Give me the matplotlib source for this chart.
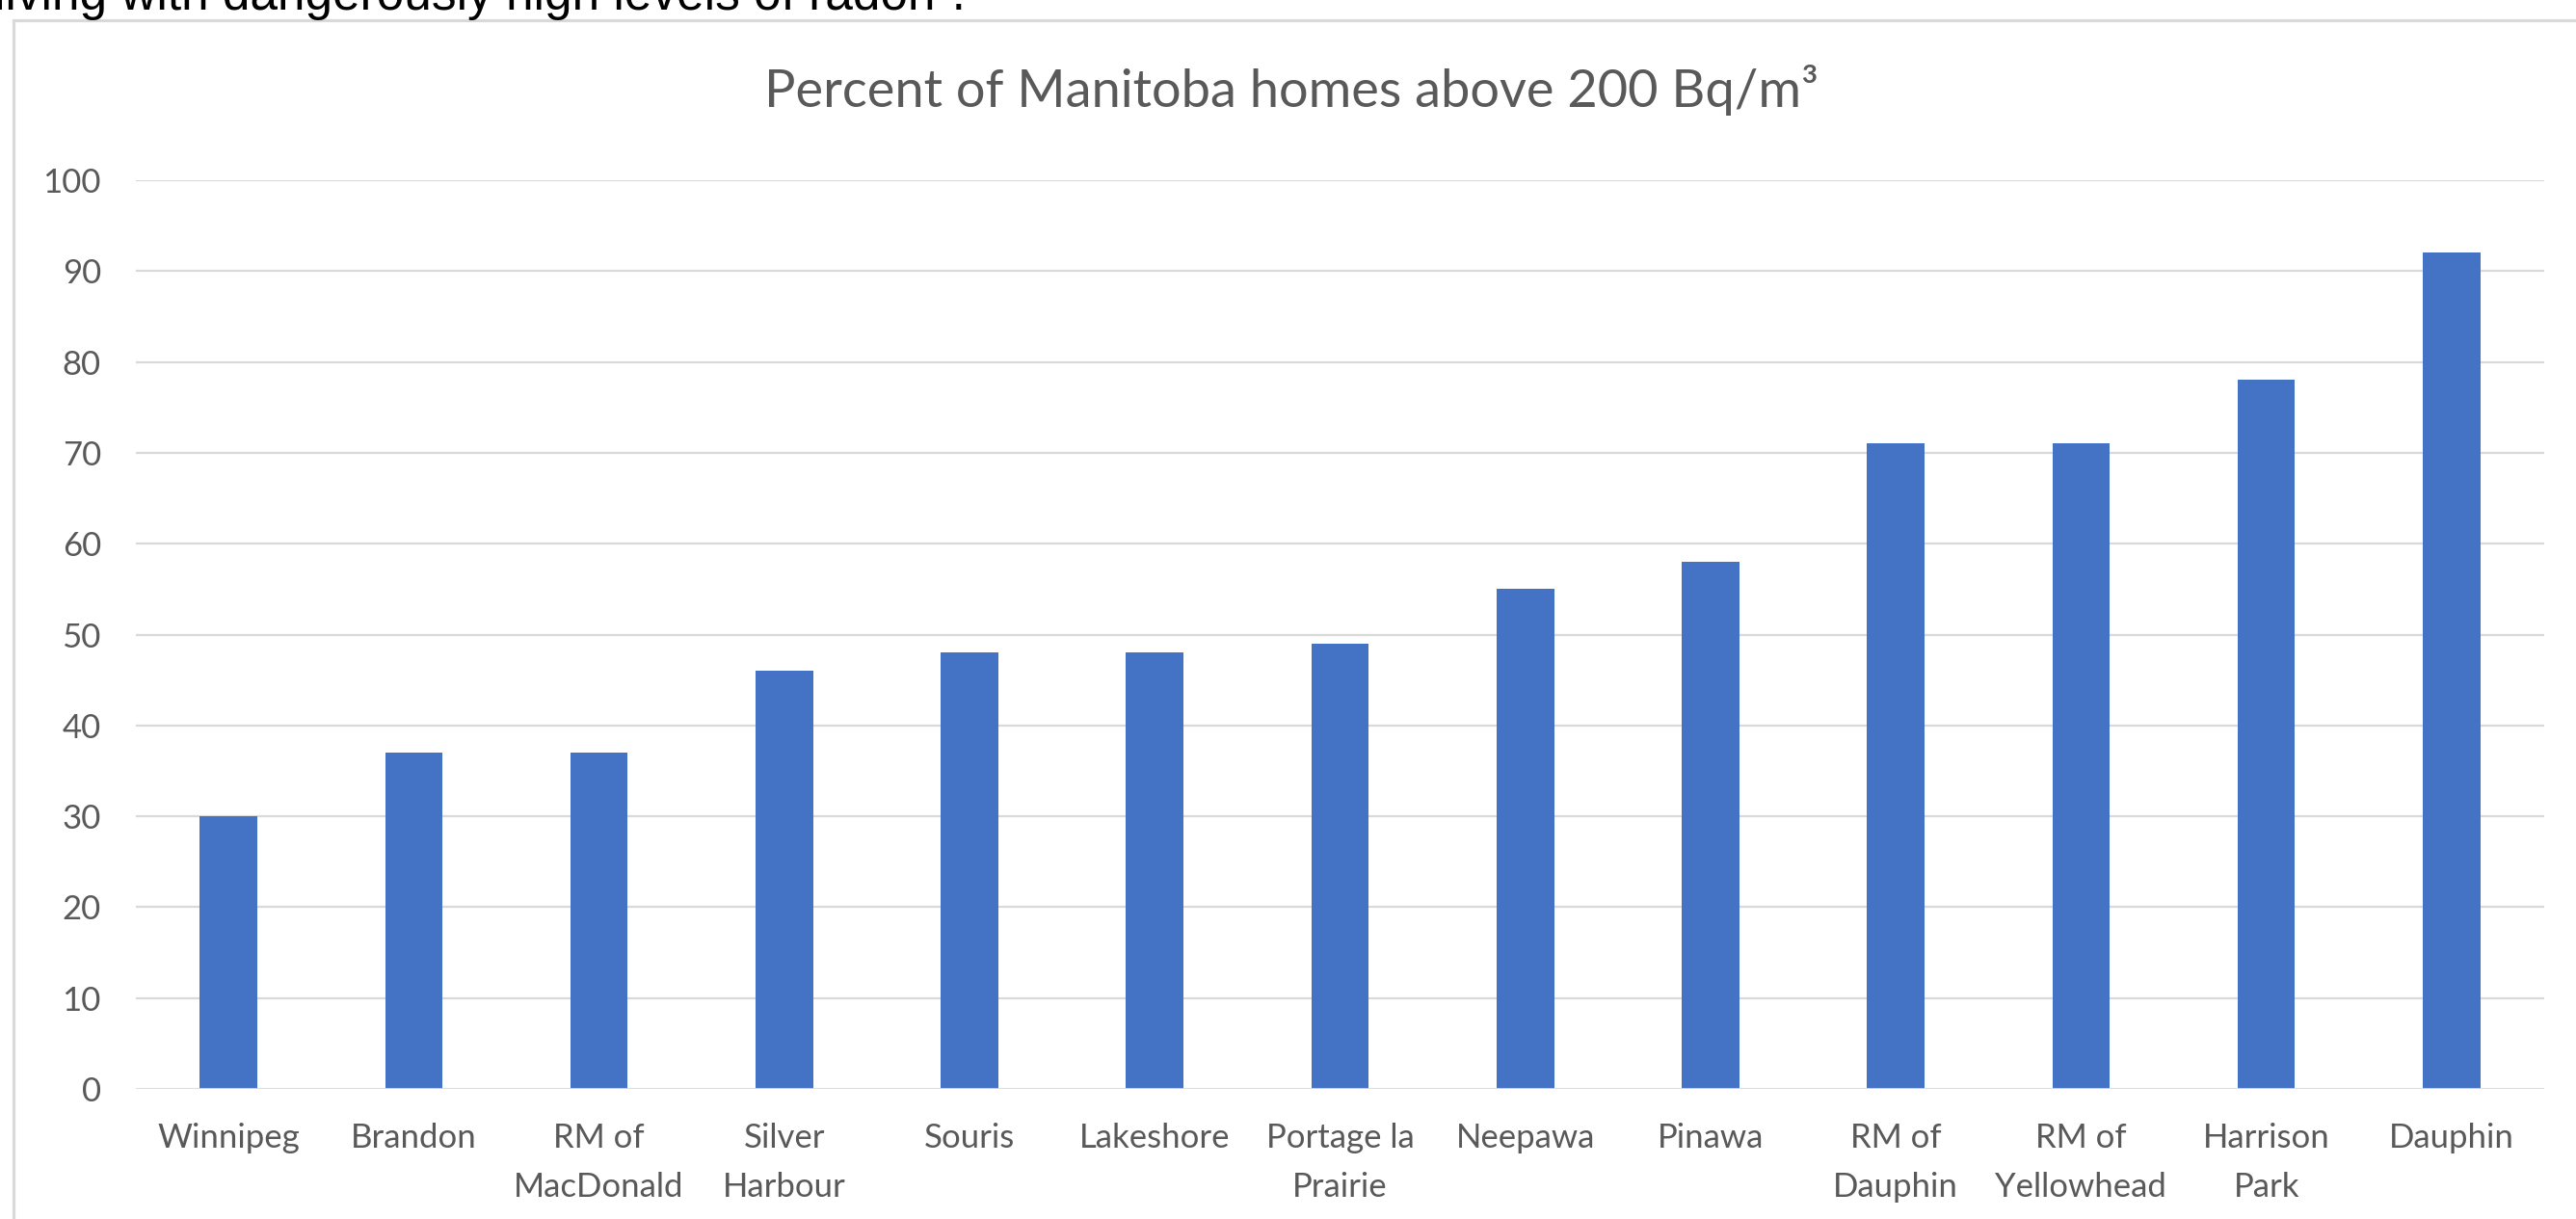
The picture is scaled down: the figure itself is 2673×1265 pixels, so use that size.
import matplotlib
matplotlib.use('Agg')
import numpy as np
from matplotlib import pyplot as plt
from matplotlib.patches import Rectangle

# data
places = ['Winnipeg', 'Brandon', 'RM of\nMacDonald', 'Silver\nHarbour', 'Souris',
          'Lakeshore', 'Portage la\nPrairie', 'Neepawa', 'Pinawa', 'RM of\nDauphin',
          'RM of\nYellowhead', 'Harrison\nPark', 'Dauphin']
percent = [30, 37, 37, 46, 48, 48, 49, 55, 58, 71, 71, 78, 92]
yticks = [0, 10, 20, 30, 40, 50, 60, 70, 80, 90, 100]

W, H = 2673, 1265
fig = plt.figure(figsize=(W/100, H/100), dpi=100)
fig.patch.set_facecolor('white')

grey = '#595959'
gridc = '#d9d9d9'

# chart frame (runs past the right and bottom edge of the screenshot)
fig.patches.append(Rectangle((14/W, -0.2), 1.2, 1.2 - 21/H, transform=fig.transFigure,
                             fill=False, edgecolor=gridc, linewidth=2.3, zorder=0))

# sentence above the chart, cut off by the screenshot
fig.text(-6/W, 1 - 10/H, 'living with dangerously high levels of radon\u00b9.',
         fontfamily='Liberation Sans', fontsize=37, color='black', ha='left', va='baseline')

ax = fig.add_axes([141/W, 135/H, (2640-141)/W, (1130-187)/H])
x = np.arange(len(places))
ax.bar(x, percent, width=0.31, color='#4472C4', zorder=3)

ax.set_xlim(-0.5, len(places) - 0.5)
ax.set_ylim(0, 100)
ax.set_yticks(yticks)
for t in yticks[1:]:
    ax.axhline(t, color=gridc, linewidth=1.6, zorder=1)
ax.axhline(0, color=gridc, linewidth=2.0, zorder=4)

for s in ax.spines.values():
    s.set_visible(False)

ax.set_xticks(x)
ax.set_xticklabels(places, fontfamily='Lato', fontsize=25, color=grey, linespacing=1.75)
ax.tick_params(axis='x', length=0, pad=25)
ax.tick_params(axis='y', length=0, pad=26, labelsize=25, labelcolor=grey)
for lab in ax.get_yticklabels():
    lab.set_fontfamily('Lato')

fig.text(1340/W, 1 - 111/H, 'Percent of Manitoba homes above 200 Bq/m\u00b3',
         fontfamily='Lato', fontsize=39, color=grey, ha='center', va='baseline')

fig.savefig('out.png', dpi=100)
